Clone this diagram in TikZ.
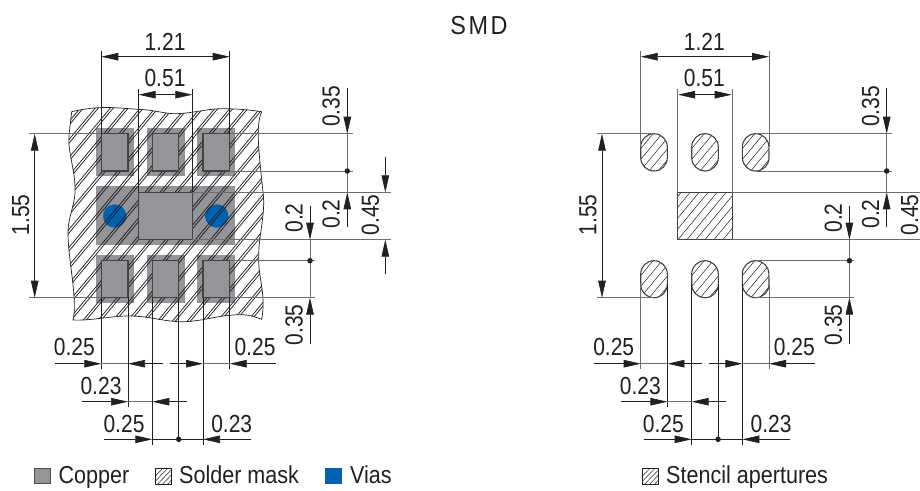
\documentclass[tikz,border=0pt]{standalone}
\usepackage{fontspec}
\setmainfont{Liberation Sans}
\newfontfamily\condfont[FakeStretch=0.85]{Liberation Sans}
\newfontfamily\legfont[FakeStretch=0.88]{Liberation Sans}
\newfontfamily\titlefont[FakeStretch=0.9,LetterSpace=10]{Liberation Sans}
\usetikzlibrary{arrows.meta}
\definecolor{ink}{HTML}{231F20}
\definecolor{copper}{HTML}{939598}
\definecolor{viablue}{HTML}{0061AF}
\definecolor{ext}{HTML}{6E6E6E}
\tikzset{
  x=1pt,y=-1pt,
  lbl/.style={font=\condfont\fontsize{24.7}{26}\selectfont,text=ink,inner sep=0pt,anchor=base},
  lblv/.style={font=\condfont\fontsize{24.7}{26}\selectfont,text=ink,inner sep=0pt,rotate=90},
  legendtxt/.style={font=\legfont\fontsize{24.5}{26}\selectfont,text=ink,inner sep=0pt,anchor=base west},
  extline/.style={draw=ink,line width=0.7pt},
  extgrey/.style={draw=ext,line width=0.9pt},
  dimline/.style={draw=ink,line width=0.7pt,-{Triangle[length=17pt,width=7.5pt]},color=ink},
  dimdouble/.style={draw=ink,line width=0.7pt,{Triangle[length=17pt,width=7.5pt]}-{Triangle[length=17pt,width=7.5pt]},color=ink},
  hatchline/.style={draw=ink,line width=0.6pt},
  padoutline/.style={draw=ink!85,line width=1.1pt},
  dotmark/.style={circle,fill=ink,inner sep=0pt,minimum size=5.5pt},
}
\newcommand{\maskpath}{(71.7,111.7) .. controls (100,105) and (115,108) .. (138.7,109.3) .. controls (155,110) and (165,114) .. (176.7,113.7) .. controls (195,113) and (210,108) .. (226.7,108.7) .. controls (240,109) and (250,110) .. (261.7,111.7) .. controls (256,125) and (258,145) .. (263,192) .. controls (266,215) and (258,235) .. (258.7,260.7) .. controls (259,280) and (266,295) .. (261.7,319.3) .. controls (250,315) and (245,314) .. (233,315) .. controls (215,316) and (200,322) .. (180,321.7) .. controls (160,321) and (150,316) .. (128,316) .. controls (110,316) and (90,321) .. (73,320) .. controls (78,300) and (68,260) .. (68,233) .. controls (68,215) and (76,205) .. (75,186) .. controls (74,165) and (67,150) .. (69.3,133) .. controls (70,125) and (71,118) .. cycle}
\newcommand{\stadium}[4]{(#1,#3) arc[start angle=180,end angle=360,x radius=13.3,y radius=13.3] -- (#2,#4) arc[start angle=0,end angle=180,x radius=13.3,y radius=13.3] -- cycle}
\newcommand{\commondims}[1]{
  \node[lbl] (#1w) at (165,50.7) {1.21};
  \coordinate (#1wa) at (101.3,56.7); \coordinate (#1wb) at (229.7,56.7);
  \draw[dimdouble] (#1wa) -- (#1wb);
  \node[lbl] (#1c) at (165,86.7) {0.51};
  \coordinate (#1ca) at (138.7,94.7); \coordinate (#1cb) at (192.3,94.7);
  \draw[dimdouble] (#1ca) -- (#1cb);
  \coordinate (#1ta) at (347.3,88); \coordinate (#1tb) at (347.3,133.7);
  \draw[dimline] (#1ta) -- (#1tb);
  \node[lblv] (#1t) at (331.2,106.5) {0.35};
  \coordinate (#1tc) at (347.3,226.7); \coordinate (#1td) at (347.3,192.3);
  \draw[dimline] (#1tc) -- (#1td);
  \draw[extgrey] (#1tb) -- (#1td);
  \node[dotmark] (#1td0) at (347.3,171) {};
  \node[lblv] (#1u) at (331.2,214) {0.2};
  \coordinate (#1fa) at (385.3,157.3); \coordinate (#1fb) at (385.3,192.3);
  \draw[dimline] (#1fa) -- (#1fb);
  \coordinate (#1fc) at (385.3,274); \coordinate (#1fd) at (385.3,239.7);
  \draw[dimline] (#1fc) -- (#1fd);
  \node[lblv] (#1f) at (370.3,215) {0.45};
  \coordinate (#1ga) at (310,205.7); \coordinate (#1gb) at (310,239.7);
  \draw[dimline] (#1ga) -- (#1gb);
  \node[lblv] (#1g) at (294,218) {0.2};
  \coordinate (#1gc) at (310,344); \coordinate (#1gd) at (310,297.7);
  \draw[dimline] (#1gc) -- (#1gd);
  \draw[extgrey] (#1gb) -- (#1gd);
  \node[dotmark] (#1gd0) at (310,260.7) {};
  \node[lblv] (#1h) at (294,325) {0.35};
  \coordinate (#1pa) at (55,363.7); \coordinate (#1pb) at (101.3,363.7);
  \draw[dimline] (#1pa) -- (#1pb);
  \coordinate (#1pc) at (162.7,363.7); \coordinate (#1pd) at (128,363.7);
  \draw[dimline] (#1pc) -- (#1pd);
  \draw[extgrey] (#1pb) -- (#1pd);
  \coordinate (#1pe) at (170,363.7); \coordinate (#1pf) at (203,363.7);
  \draw[dimline] (#1pe) -- (#1pf);
  \coordinate (#1pg) at (275.7,363.7); \coordinate (#1ph) at (229.7,363.7);
  \draw[dimline] (#1pg) -- (#1ph);
  \draw[extgrey] (#1pf) -- (#1ph);
  \node[lbl] (#1pl) at (74.3,355.7) {0.25};
  \node[lbl] (#1pr) at (255,355.7) {0.25};
  \coordinate (#1qa) at (81.7,401.7); \coordinate (#1qb) at (128,401.7);
  \draw[dimline] (#1qa) -- (#1qb);
  \coordinate (#1qc) at (186.7,401.7); \coordinate (#1qd) at (152.3,401.7);
  \draw[dimline] (#1qc) -- (#1qd);
  \draw[extgrey] (#1qb) -- (#1qd);
  \node[lbl] (#1ql) at (101,394) {0.23};
  \coordinate (#1ra) at (104.3,439.3); \coordinate (#1rb) at (152.3,439.3);
  \draw[dimline] (#1ra) -- (#1rb);
  \coordinate (#1rc) at (251,439.3); \coordinate (#1rd) at (203,439.3);
  \draw[dimline] (#1rc) -- (#1rd);
  \draw[extline] (#1rb) -- (#1rd);
  \node[dotmark] (#1r0) at (178.7,439.3) {};
  \node[lbl] (#1rl) at (124,432) {0.25};
  \node[lbl] (#1rr) at (231.7,432) {0.23};
}
\begin{document}
\begin{tikzpicture}
\useasboundingbox (0,0) rectangle (920,490);
\clip (0,0) rectangle (920,490);
\fill[white] (0,0) rectangle (920,490);

\node[lbl,font=\titlefont\fontsize{26}{27}\selectfont] (title) at (479,34) {SMD};

\fill[copper] (96,128) rectangle (134,176);
\fill[copper] (147,128) rectangle (185,176);
\fill[copper] (197.3,128) rectangle (235,176);
\fill[copper] (96,186) rectangle (235,244.7);
\fill[copper] (96,255) rectangle (134,302.7);
\fill[copper] (147,255) rectangle (185,302.7);
\fill[copper] (197.3,255) rectangle (235,302.7);
\node[circle,fill=viablue,inner sep=0pt,minimum size=23.4pt] (viaL) at (114.7,216) {};
\node[circle,fill=viablue,inner sep=0pt,minimum size=23.4pt] (viaR) at (216.7,216) {};
\begin{scope}
  \clip \maskpath;
  \foreach \i in {-12,...,18} {
    \foreach \o in {0,3} {
      \draw[hatchline,line width=0.75pt] ({\i*15+\o},330) -- ({\i*15+\o+192},100);
    }
  }
\end{scope}
\draw[draw=ink,line width=0.7pt] \maskpath;
\foreach \n/\a/\b in {a/101.3/128,b/152.3/178.7,c/203/229.7} {
  \draw[padoutline,fill=copper] (\a,133.7) rectangle (\b,171);
  \draw[padoutline,fill=copper] (\a,260.7) rectangle (\b,297.7);
}
\draw[padoutline,fill=copper] (138.7,192.3) rectangle (192.3,239.7);

\draw[extline] (101.3,51) -- (101.3,133.7);
\draw[extline] (229.7,51) -- (229.7,133.7);
\draw[extline] (138.7,89) -- (138.7,192.3);
\draw[extline] (192.3,89) -- (192.3,192.3);
\draw[extgrey] (229.7,133.7) -- (352.7,133.7);
\draw[extgrey] (229.7,171) -- (352.7,171);
\draw[extgrey] (192.3,192.3) -- (390.7,192.3);
\draw[extgrey] (192.3,239.7) -- (390.7,239.7);
\draw[extgrey] (229.7,260.7) -- (315,260.7);
\draw[extgrey] (229.7,297.7) -- (315,297.7);
\draw[extgrey] (29,133.7) -- (101.3,133.7);
\draw[extgrey] (29,297.7) -- (101.3,297.7);
\draw[extline] (101.3,297.7) -- (101.3,369.3);
\draw[extline] (128,297.7) -- (128,406.7);
\draw[extline] (152.3,297.7) -- (152.3,445);
\draw[extline] (178.7,297.7) -- (178.7,439.3);
\draw[extline] (203,297.7) -- (203,445);
\draw[extline] (229.7,297.7) -- (229.7,369.3);
\coordinate (wa) at (34.7,133.7); \coordinate (wb) at (34.7,297.7);
\draw[dimdouble] (wa) -- (wb);
\node[lblv] (hL) at (20.7,215) {1.55};
\commondims{L}

\foreach \a/\b in {640.7/667.3,691.7/718.3,742.3/769} {
  \begin{scope}
    \clip \stadium{\a}{\b}{147}{157.7};
    \foreach \i in {0,...,9} \draw[hatchline,line width=0.5pt] ({\a-40+\i*9},175) -- ({\a-40+\i*9+40},127);
  \end{scope}
  \draw[padoutline] \stadium{\a}{\b}{147}{157.7};
  \begin{scope}
    \clip \stadium{\a}{\b}{274}{284.4};
    \foreach \i in {0,...,9} \draw[hatchline,line width=0.5pt] ({\a-40+\i*9},302) -- ({\a-40+\i*9+40},254);
  \end{scope}
  \draw[padoutline] \stadium{\a}{\b}{274}{284.4};
}
\begin{scope}
  \clip (677.7,192.3) rectangle (732.3,239.7);
  \foreach \i in {0,...,12} \draw[hatchline,line width=0.5pt] ({640+\i*9},242) -- ({640+\i*9+48},184);
\end{scope}
\draw[padoutline] (677.7,192.3) rectangle (732.3,239.7);

\draw[extgrey] (640.7,51) -- (640.7,147);
\draw[extgrey] (769,51) -- (769,147);
\draw[extgrey] (677.7,89) -- (677.7,192.3);
\draw[extgrey] (732.3,89) -- (732.3,192.3);
\draw[extgrey] (596.7,133.7) -- (654,133.7);
\draw[extgrey] (755.6,133.7) -- (892,133.7);
\draw[extgrey] (755.6,171) -- (892,171);
\draw[extgrey] (732.3,192.3) -- (920,192.3);
\draw[extgrey] (732.3,239.7) -- (920,239.7);
\draw[extgrey] (755.6,260.7) -- (854.4,260.7);
\draw[extgrey] (755.6,297.7) -- (854.4,297.7);
\draw[extgrey] (596.7,297.7) -- (654,297.7);
\draw[extgrey] (640.7,284.4) -- (640.7,369.3);
\draw[extline] (667.3,284.4) -- (667.3,406.7);
\draw[extline] (691.7,284.4) -- (691.7,445);
\draw[extline] (718.3,284.4) -- (718.3,439.3);
\draw[extline] (742.3,284.4) -- (742.3,445);
\draw[extgrey] (769,284.4) -- (769,369.3);
\coordinate (xa) at (602,133.7); \coordinate (xb) at (602,297.7);
\draw[dimdouble] (xa) -- (xb);
\node[lblv] (hR) at (588,215) {1.55};
\begin{scope}[xshift=539.4pt]
\commondims{R}
\end{scope}

\node[draw=ink!80,line width=1.1pt,fill=copper,inner sep=0pt,minimum size=15.5pt] (kcu) at (42.4,476) {};
\node[legendtxt] (kcut) at (58.3,483) {Copper};
\begin{scope}
  \clip (155.7,468) rectangle (171,484);
  \foreach \o in {-8,-3,2,7,12} \draw[hatchline,line width=0.5pt] (155.7+\o,484) -- (171+\o,468);
\end{scope}
\node[draw=ink,line width=0.7pt,inner sep=0pt,minimum width=15.3pt,minimum height=16pt] (kmask) at (163.35,476) {};
\node[legendtxt] (kmaskt) at (179,483) {Solder mask};
\node[fill=viablue,inner sep=0pt,minimum size=16.5pt] (kvia) at (333.6,476) {};
\node[legendtxt] (kviat) at (350,483) {Vias};
\begin{scope}
  \clip (642.7,468) rectangle (658.3,484);
  \foreach \o in {-8,-3,2,7,12} \draw[hatchline,line width=0.5pt] (642.7+\o,484) -- (658.3+\o,468);
\end{scope}
\node[draw=ink,line width=0.7pt,inner sep=0pt,minimum width=15.6pt,minimum height=16pt] (kst) at (650.5,476) {};
\node[legendtxt] (kstt) at (666,483) {Stencil apertures};
\end{tikzpicture}
\end{document}
